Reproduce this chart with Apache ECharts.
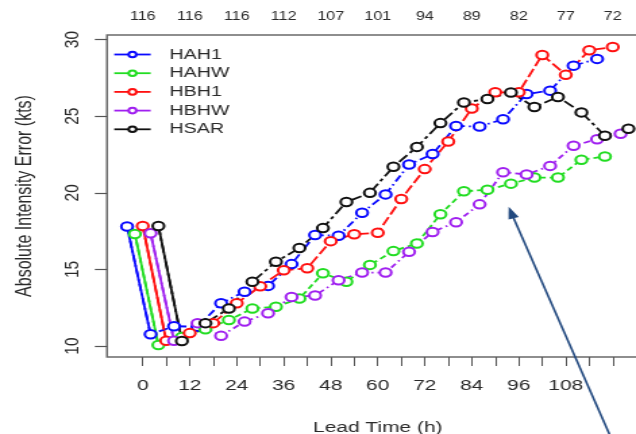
<!DOCTYPE html>
<html>
<head>
<meta charset="utf-8">
<script src="https://cdn.jsdelivr.net/npm/echarts@6/dist/echarts.min.js"></script>
<style>
  html, body { margin: 0; padding: 0; background: #fff; overflow: hidden; }
  /* the figure is drawn narrow and stretched sideways, like the slide it sits on */
  #chart { width: 471px; height: 434px; transform: scaleX(1.35032); transform-origin: 0 0; }
</style>
</head>
<body>
<div id="chart"></div>
<script>
// forecast lead times (h) of each verification point
const leadHours = [0, 6, 12, 18, 24, 30, 36, 42, 48, 54, 60, 66, 72, 78, 84, 90, 96, 102, 108, 114, 120];

// axis ticks and labels
const tickHours = [0, 6, 12, 18, 24, 30, 36, 42, 48, 54, 60, 66, 72, 78, 84, 90, 96, 102, 108, 114, 120];
const labelHours = [0, 12, 24, 36, 48, 60, 72, 84, 96, 108];
const yTicks = [10, 15, 20, 25, 30];

// number of verifying cases, printed along the top
const countHours = [0, 12, 24, 36, 48, 60, 72, 84, 96, 108, 120];
const sampleSizes = [116, 116, 116, 112, 107, 101, 94, 89, 82, 77, 72];

// absolute intensity error (kts) per model
const hah1 = [17.8, 10.77, 11.3, 11.26, 12.8, 13.55, 13.93, 15.35, 17.25, 17.2, 18.7, 19.9, 21.85, 22.53, 24.36, 24.33, 24.8, 26.45, 26.67, 28.3, 28.74];
const hahw = [17.32, 10.07, 10.6, 11.1, 11.7, 12.46, 12.57, 13.1, 14.75, 14.2, 15.3, 16.2, 16.7, 18.6, 20.1, 20.2, 20.6, 21.0, 21.0, 22.16, 22.37];
const hbh1 = [17.84, 10.35, 10.85, 11.5, 12.8, 13.9, 14.95, 15.08, 16.85, 17.3, 17.4, 19.6, 21.55, 23.35, 25.5, 26.56, 26.56, 29.0, 27.7, 29.3, 29.52];
const hbhw = [17.37, 10.35, 11.5, 10.67, 11.6, 12.14, 13.2, 13.3, 14.3, 14.8, 14.8, 16.15, 17.45, 18.08, 19.25, 21.35, 21.2, 21.76, 23.07, 23.5, 23.86];
const hsar = [17.84, 10.33, 11.5, 12.46, 14.2, 15.5, 16.4, 17.7, 19.4, 20.0, 21.7, 23.0, 24.55, 25.9, 26.12, 26.55, 25.6, 26.26, 25.25, 23.73, 24.18];

// per-model drawing style; shift dodges the models sideways (h)
const models = [
  { name: 'HAH1', values: hah1, color: '#0a0aff', shift: -4, dash: [7, 3, 1.5, 3] },
  { name: 'HAHW', values: hahw, color: '#22dd22', shift: -2, dash: [5, 3] },
  { name: 'HBH1', values: hbh1, color: '#ff1010', shift: 0,  dash: [9, 3] },
  { name: 'HBHW', values: hbhw, color: '#a020f0', shift: 2,  dash: [1.5, 3, 5, 3] },
  { name: 'HSAR', values: hsar, color: '#111111', shift: 4,  dash: [9, 3, 3, 3] }
];

const FONT = 'Liberation Sans, Arial, Helvetica, sans-serif';
const TEXT = '#2a2a2a';
const TICK = '#555555';

// plotting region and the data range it spans
const X_MIN = -9.12, X_MAX = 129.12, Y_MIN = 9.29, Y_MAX = 30.30;
const PLOT = { left: 79.24, top: 35, width: 401, height: 322 };
const xPx = PLOT.width / (X_MAX - X_MIN);
const yPx = PLOT.height / (Y_MAX - Y_MIN);

const series = [];
models.forEach(function (m) {
  const pts = m.values.map(function (v, i) { return [leadHours[i] + m.shift, v]; });
  series.push({
    name: m.name,
    type: 'line',
    xAxisIndex: 0, yAxisIndex: 0,
    data: pts,
    symbol: 'emptyCircle',
    symbolSize: 8.5,
    z: 3,
    lineStyle: { color: m.color, width: 1.8, type: m.dash },
    itemStyle: { color: m.color, borderColor: m.color, borderWidth: 1.8 }
  });
  // the drop from the analysis time is drawn as a plain solid stroke
  series.push({
    name: m.name,
    type: 'line',
    xAxisIndex: 0, yAxisIndex: 0,
    data: pts.slice(0, 2),
    symbol: 'none',
    z: 2,
    lineStyle: { color: m.color, width: 1.8, type: 'solid' },
    itemStyle: { color: m.color }
  });
});

const tickFirst = tickHours[0], tickLast = tickHours[tickHours.length - 1];
const yFirst = yTicks[0], yLast = yTicks[yTicks.length - 1];

const chart = echarts.init(document.getElementById('chart'), null, { width: 471, height: 434 });

chart.setOption({
  animation: false,
  backgroundColor: '#ffffff',
  textStyle: { fontFamily: FONT },
  grid: [
    // data region with its frame
    {
      left: PLOT.left, top: PLOT.top, width: PLOT.width, height: PLOT.height,
      show: true, borderColor: '#6a6a6a', borderWidth: 1.5, backgroundColor: 'transparent',
      containLabel: false, outerBoundsMode: 'none'
    },
    // span of the lead-time ticks
    {
      left: PLOT.left + (tickFirst - X_MIN) * xPx, top: PLOT.top,
      width: (tickLast - tickFirst) * xPx, height: PLOT.height, show: false,
      containLabel: false, outerBoundsMode: 'none'
    },
    // span of the error ticks
    {
      left: PLOT.left, top: PLOT.top + (Y_MAX - yLast) * yPx,
      width: PLOT.width, height: (yLast - yFirst) * yPx, show: false,
      containLabel: false, outerBoundsMode: 'none'
    }
  ],
  legend: {
    data: models.map(function (m) { return m.name; }),
    orient: 'vertical',
    left: 83.7, top: 47,
    padding: 0,
    itemWidth: 27, itemHeight: 7, itemGap: 3.7,
    lineStyle: { type: 'solid', width: 1.8 },
    textStyle: { fontSize: 14.5, color: TEXT, padding: [0, 0, 0, 9], fontFamily: FONT },
    selectedMode: false
  },
  xAxis: [
    {
      gridIndex: 0, type: 'value', min: X_MIN, max: X_MAX,
      axisLine: { show: false }, axisTick: { show: false }, axisLabel: { show: false },
      splitLine: { show: false },
      name: 'Lead Time (h)', nameLocation: 'middle', nameGap: 63,
      nameTextStyle: { fontSize: 15.5, color: TEXT }
    },
    {
      gridIndex: 1, type: 'value', position: 'bottom',
      min: tickFirst, max: tickLast, interval: tickHours[1] - tickHours[0],
      axisLine: { show: false }, splitLine: { show: false },
      axisTick: { show: true, length: 9, lineStyle: { color: TICK, width: 1 } },
      axisLabel: {
        margin: 21, fontSize: 15.5, color: TEXT, showMinLabel: true, showMaxLabel: true,
        formatter: function (v) { return labelHours.indexOf(v) >= 0 ? String(v) : ''; }
      }
    },
    {
      gridIndex: 1, type: 'value', position: 'top',
      min: countHours[0], max: countHours[countHours.length - 1], interval: countHours[1] - countHours[0],
      axisLine: { show: false }, splitLine: { show: false }, axisTick: { show: false },
      axisLabel: {
        margin: 12, fontSize: 12, color: TEXT, showMinLabel: true, showMaxLabel: true,
        formatter: function (v) { const i = countHours.indexOf(v); return i >= 0 ? String(sampleSizes[i]) : ''; }
      }
    },
    { gridIndex: 2, type: 'value', min: 0, max: 1, show: false }
  ],
  yAxis: [
    {
      gridIndex: 0, type: 'value', min: Y_MIN, max: Y_MAX,
      axisLine: { show: false }, axisTick: { show: false }, axisLabel: { show: false },
      splitLine: { show: false },
      name: 'Absolute Intensity Error (kts)', nameLocation: 'middle', nameGap: 53,
      nameTextStyle: { fontSize: 16, color: TEXT }
    },
    { gridIndex: 1, type: 'value', min: 0, max: 1, show: false },
    {
      gridIndex: 2, type: 'value', position: 'left',
      min: yFirst, max: yLast, interval: yTicks[1] - yTicks[0],
      axisLine: { show: false, onZero: false }, splitLine: { show: false },
      axisTick: { show: true, inside: false, length: 9, lineStyle: { color: TICK, width: 1.2 } },
      axisLabel: { rotate: 90, margin: 18, fontSize: 15.5, color: TEXT, showMinLabel: true, showMaxLabel: true }
    }
  ],
  series: series,
  graphic: [
    {
      type: 'line', silent: true, z: 100,
      shape: { x1: 453.2, y1: 440, x2: 379.5, y2: 215.5 },
      style: { stroke: '#22497f', lineWidth: 1.6 }
    },
    {
      type: 'polygon', silent: true, z: 100,
      shape: { points: [[376.7, 206.7], [384.2, 216.9], [376.6, 219.4]] },
      style: { fill: '#22497f' }
    }
  ]
});
</script>
</body>
</html>
